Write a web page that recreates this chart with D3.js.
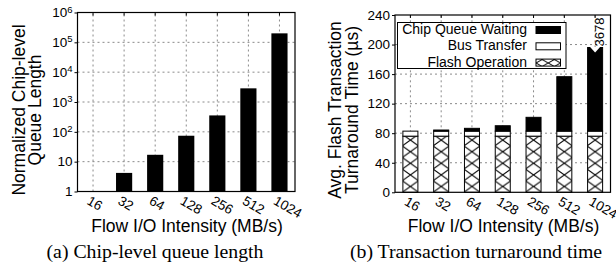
<!DOCTYPE html>
<html>
<head>
<meta charset="utf-8">
<script src="https://cdn.jsdelivr.net/npm/d3@7"></script>
<style>
body{margin:0;background:#fff}
svg{display:block}
text{font-family:"Liberation Sans",Arial,sans-serif;fill:#000}
.cap{font-family:"Liberation Serif","Times New Roman",serif}
.grid{stroke:#8a8a8a;stroke-width:1;stroke-dasharray:2,3}
</style>
</head>
<body>
<svg width="616" height="268"></svg>
<script>
// x categories shared by both panels (MB/s)
var categories = ["16","32","64","128","256","512","1024"];

// (a) normalized chip-level queue length (log scale)
var queueLength = [1, 4.2, 17, 74, 355, 2870, 200000];
var logTicks = [1, 10, 100, 1000, 10000, 100000, 1000000];

// (b) stacked turnaround time components (us)
var flashOp     = [76, 76, 76, 76, 76, 76, 76];
var busTransfer = [6.8, 6.8, 6.8, 6.8, 6.8, 6.8, 6.8];
var queueWait   = [0, 1.5, 3.8, 7.3, 18.7, 73.7, 3595.2];
var linTicks = [0, 40, 80, 120, 160, 200, 240];
var breakValue = 196;   // 1024 bar is cut here, real total printed above it
var legendLabels = ["Chip Queue Waiting", "Bus Transfer", "Flash Operation"];

var svg = d3.select("svg");

function addHatch(id, x, y, w, h){
  var p = svg.append("defs").append("pattern")
      .attr("id", id).attr("patternUnits", "userSpaceOnUse")
      .attr("x", x).attr("y", y).attr("width", w).attr("height", h);
  p.append("rect").attr("width", w).attr("height", h).attr("fill", "white");
  p.append("path").attr("d", "M0,0L" + w + "," + h + "M" + w + ",0L0," + h)
      .attr("stroke", "black").attr("stroke-width", 1).attr("fill", "none");
}

//start of panel (a)

var xA = d3.scaleBand().domain(categories).range([77.5, 295]).paddingInner(0.48).paddingOuter(0.24),
    yA = d3.scaleLog().domain([1, 1e6]).range([191.5, 12.5]);

var gA = svg.append("g");

gA.selectAll(".hgrid").data(logTicks.slice(1, -1)).enter().append("line")
  .attr("class", "grid")
  .attr("x1", xA.range()[0]).attr("x2", xA.range()[1])
  .attr("y1", d=>yA(d)).attr("y2", d=>yA(d));

gA.selectAll(".vgrid").data(categories).enter().append("line")
  .attr("class", "grid")
  .attr("x1", d=>xA(d) + xA.bandwidth()/2).attr("x2", d=>xA(d) + xA.bandwidth()/2)
  .attr("y1", yA.range()[0]).attr("y2", yA.range()[1]);

gA.selectAll(".bar").data(categories).enter().append("rect")
  .attr("x", d=>xA(d))
  .attr("y", (d,i)=>yA(queueLength[i]))
  .attr("width", xA.bandwidth())
  .attr("height", (d,i)=>yA(1) - yA(queueLength[i]))
  .attr("fill", "black");

var axA = gA.append("g")
  .attr("transform", "translate(" + xA.range()[0] + ",0)")
  .call(d3.axisLeft(yA).tickValues(logTicks).tickSize(3).tickPadding(2).tickSizeOuter(0).tickFormat(""));
axA.select(".domain").remove();
axA.attr("font-size", 13.5);
axA.selectAll(".tick text").each(function(d){
  var t = d3.select(this), e = Math.round(Math.log10(d));
  if(e < 2){ t.text(d); }
  else {
    t.append("tspan").text("10");
    t.append("tspan").attr("dy", "-0.5em").attr("font-size", "9.5px").text(e);
  }
});

var bxA = gA.append("g")
  .attr("transform", "translate(0," + yA.range()[0] + ")")
  .call(d3.axisBottom(xA).tickSize(0).tickSizeOuter(0));
bxA.select(".domain").remove();
bxA.attr("font-size", 13.5);
bxA.selectAll("text")
  .attr("y", null).attr("dy", null)
  .attr("text-anchor", "start")
  .attr("transform", "translate(-7,12) rotate(30)");

// mirrored ticks on top border
gA.selectAll(".ttick").data(categories).enter().append("line")
  .attr("x1", d=>xA(d) + xA.bandwidth()/2).attr("x2", d=>xA(d) + xA.bandwidth()/2)
  .attr("y1", yA.range()[1]).attr("y2", yA.range()[1] + 3).attr("stroke", "black");

gA.append("rect")
  .attr("x", xA.range()[0]).attr("y", yA.range()[1])
  .attr("width", xA.range()[1] - xA.range()[0])
  .attr("height", yA.range()[0] - yA.range()[1])
  .attr("fill", "none").attr("stroke", "black").attr("stroke-width", 1.2);

gA.append("text").attr("font-size", 17.5).attr("text-anchor", "middle")
  .attr("transform", "translate(24.5,110) rotate(-90)").text("Normalized Chip-level");
gA.append("text").attr("font-size", 17.5).attr("text-anchor", "middle")
  .attr("transform", "translate(40.5,110) rotate(-90)").text("Queue Length");
gA.append("text").attr("font-size", 17.5).attr("text-anchor", "middle")
  .attr("x", 187).attr("y", 231.5).text("Flow I/O Intensity (MB/s)");
gA.append("text").attr("class", "cap").attr("font-size", 19.8).attr("text-anchor", "middle")
  .attr("x", 155).attr("y", 258).text("(a) Chip-level queue length");

//start of panel (b)

var xB = d3.scaleBand().domain(categories).range([395, 610.5]).paddingInner(0.48).paddingOuter(0.24),
    yB = d3.scaleLinear().domain([0, 240]).range([192.3, 15]);

var rows = categories.map((c,i)=>({cat:c, flash:flashOp[i], bus:busTransfer[i], wait:queueWait[i]}));
var stacked = d3.stack().keys(["flash", "bus", "wait"])(rows);

var gB = svg.append("g");

gB.selectAll(".hgrid").data(linTicks.slice(1, -1)).enter().append("line")
  .attr("class", "grid")
  .attr("x1", xB.range()[0]).attr("x2", xB.range()[1])
  .attr("y1", d=>yB(d)).attr("y2", d=>yB(d));

gB.selectAll(".vgrid").data(categories).enter().append("line")
  .attr("class", "grid")
  .attr("x1", d=>xB(d) + xB.bandwidth()/2).attr("x2", d=>xB(d) + xB.bandwidth()/2)
  .attr("y1", yB.range()[0]).attr("y2", yB.range()[1]);

// one hatch pattern per bar so the crosses line up with each bar
categories.forEach((c,i)=>addHatch("hatch" + i, xB(c), yB(0), xB.bandwidth(), 11.6));

var fills = {flash: (d,i)=>"url(#hatch" + i + ")", bus: ()=>"white", wait: ()=>"black"};

stacked.forEach(function(layer){
  gB.selectAll(".s-" + layer.key).data(layer).enter().append("rect")
    .attr("x", d=>xB(d.data.cat) + 0.5)
    .attr("y", d=>yB(Math.min(d[1], breakValue)))
    .attr("width", xB.bandwidth() - 1)
    .attr("height", d=>Math.max(0, yB(d[0]) - yB(Math.min(d[1], breakValue))))
    .attr("fill", (d,i)=>fills[layer.key](d,i))
    .attr("stroke", "black").attr("stroke-width", 1);
});

// broken bar: notch on top and the real total
rows.forEach(function(r){
  var total = r.flash + r.bus + r.wait;
  if(total <= breakValue) return;
  var cx = xB(r.cat) + xB.bandwidth()/2, top = yB(breakValue);
  gB.append("path")
    .attr("d", "M" + (cx - 5) + "," + (top - 0.5) + "L" + (cx + 5) + "," + (top - 0.5) + "L" + cx + "," + (top + 5) + "Z")
    .attr("fill", "white");
  gB.append("text").attr("font-size", 13)
    .attr("transform", "translate(" + (cx + 9) + "," + (top - 1) + ") rotate(-90)")
    .text(Math.round(total));
});

var axB = gB.append("g")
  .attr("transform", "translate(" + xB.range()[0] + ",0)")
  .call(d3.axisLeft(yB).tickValues(linTicks).tickSize(3).tickPadding(2).tickSizeOuter(0));
axB.select(".domain").remove();
axB.attr("font-size", 13.5);

var bxB = gB.append("g")
  .attr("transform", "translate(0," + yB.range()[0] + ")")
  .call(d3.axisBottom(xB).tickSize(0).tickSizeOuter(0));
bxB.select(".domain").remove();
bxB.attr("font-size", 13.5);
bxB.selectAll("text")
  .attr("y", null).attr("dy", null)
  .attr("text-anchor", "start")
  .attr("transform", "translate(-7,12) rotate(30)");

gB.selectAll(".ttick").data(categories).enter().append("line")
  .attr("x1", d=>xB(d) + xB.bandwidth()/2).attr("x2", d=>xB(d) + xB.bandwidth()/2)
  .attr("y1", yB.range()[1]).attr("y2", yB.range()[1] + 3).attr("stroke", "black");

// legend box
var leg = gB.append("g");
leg.append("rect").attr("x", 397.5).attr("y", 22.5).attr("width", 168.5).attr("height", 46)
  .attr("fill", "white").attr("stroke", "black").attr("stroke-width", 1);
addHatch("hatchLeg", 536, 0, 12.25, 7);
var legFills = ["black", "white", "url(#hatchLeg)"];
legendLabels.forEach(function(l,i){
  var by = 34 + i*16.3;
  leg.append("text").attr("font-size", 14).attr("text-anchor", "end")
    .attr("x", 527).attr("y", by).text(l);
  leg.append("rect").attr("x", 536).attr("y", by - 7.5).attr("width", 24.5).attr("height", 7)
    .attr("fill", legFills[i]).attr("stroke", "black").attr("stroke-width", 1);
});

gB.append("rect")
  .attr("x", xB.range()[0]).attr("y", yB.range()[1])
  .attr("width", xB.range()[1] - xB.range()[0])
  .attr("height", yB.range()[0] - yB.range()[1])
  .attr("fill", "none").attr("stroke", "black").attr("stroke-width", 1.2);

gB.append("text").attr("font-size", 17.5).attr("text-anchor", "middle")
  .attr("transform", "translate(341,110) rotate(-90)").text("Avg. Flash Transaction");
gB.append("text").attr("font-size", 17.5).attr("text-anchor", "middle")
  .attr("transform", "translate(358,110) rotate(-90)").text("Turnaround Time (\u00b5s)");
gB.append("text").attr("font-size", 17.5).attr("text-anchor", "middle")
  .attr("x", 503.5).attr("y", 231.5).text("Flow I/O Intensity (MB/s)");
gB.append("text").attr("class", "cap").attr("font-size", 19.8).attr("text-anchor", "middle")
  .attr("x", 476).attr("y", 258).text("(b) Transaction turnaround time");
</script>
</body>
</html>
